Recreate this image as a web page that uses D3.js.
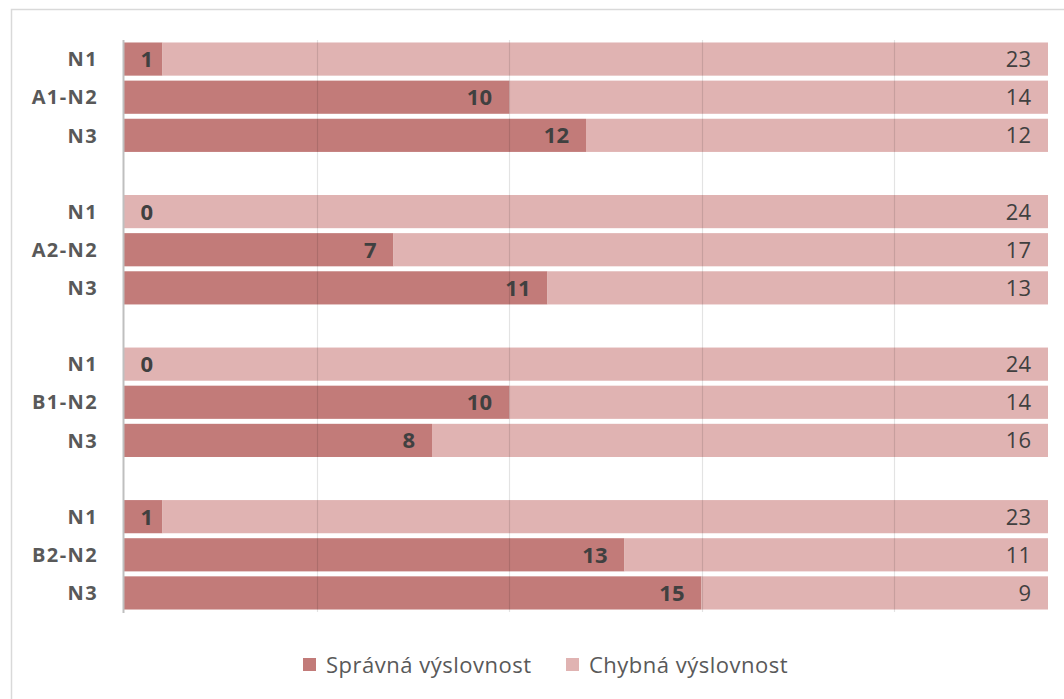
<!DOCTYPE html>
<html>
<head>
<meta charset="utf-8">
<script src="https://cdn.jsdelivr.net/npm/d3@7"></script>
<style>
  html, body { margin: 0; padding: 0; background: #fff; }
  svg { display: block; }
</style>
</head>
<body>
<svg id="chart" width="1064" height="699"></svg>
<script>
// Pronunciation results per group and level (24 speakers each)
const groups = ["A1", "A2", "B1", "B2"];
const levels = ["N1", "N2", "N3"];
const rowLabels = ["N1", "A1-N2", "N3", "N1", "A2-N2", "N3", "N1", "B1-N2", "N3", "N1", "B2-N2", "N3"];
const correct = [1, 10, 12, 0, 7, 11, 0, 10, 8, 1, 13, 15];
const wrong = [23, 14, 12, 24, 17, 13, 24, 14, 16, 23, 11, 9];
const seriesNames = ["Správná výslovnost", "Chybná výslovnost"];
const xTicks = [0, 5, 10, 15, 20];

const colors = ["#c27b79", "#e0b3b2"];
const font = "'Open Sans', 'Noto Sans', sans-serif";

const svg = d3.select("#chart");

// outer chart frame
svg.append("path")
  .attr("d", "M11.5,712 V9.5 H1080")
  .attr("fill", "none")
  .attr("stroke", "#d9d9d9")
  .attr("stroke-width", 1.5);

// rows: each group of three levels followed by an empty slot (except the last)
const rows = [];
const slots = [];
groups.forEach((g, gi) => {
  levels.forEach((lv, li) => {
    const i = gi * levels.length + li;
    const key = g + "-" + lv;
    rows.push({ key, label: rowLabels[i], correct: correct[i], wrong: wrong[i] });
    slots.push(key);
  });
  if (gi < groups.length - 1) slots.push("gap-" + g);
});

const plot = { left: 124, right: 1048, top: 40, bottom: 612 };

const x = d3.scaleLinear()
  .domain([0, d3.max(rows, d => d.correct + d.wrong)])
  .range([plot.left, plot.right]);

const y = d3.scaleBand()
  .domain(slots)
  .range([plot.top, plot.bottom])
  .paddingInner(0.13)
  .paddingOuter(0.065);

// stacked bars
const stack = d3.stack().keys(["correct", "wrong"])(rows);
stack.forEach((layer, si) => {
  svg.append("g").selectAll("rect")
    .data(layer)
    .join("rect")
    .attr("x", d => x(d[0]))
    .attr("width", d => x(d[1]) - x(d[0]))
    .attr("y", d => y(d.data.key))
    .attr("height", y.bandwidth())
    .attr("fill", colors[si]);
});

// vertical gridlines
svg.append("g").selectAll("line")
  .data(xTicks.filter(t => t > 0))
  .join("line")
  .attr("x1", d => Math.round(x(d)) + 0.5)
  .attr("x2", d => Math.round(x(d)) + 0.5)
  .attr("y1", plot.top)
  .attr("y2", plot.bottom)
  .attr("stroke", "#000")
  .attr("stroke-opacity", 0.11)
  .attr("stroke-width", 1.2);

// category axis line
svg.append("line")
  .attr("x1", plot.left - 0.5).attr("x2", plot.left - 0.5)
  .attr("y1", plot.top).attr("y2", plot.bottom + 1)
  .attr("stroke", "#bfbfbf")
  .attr("stroke-width", 2);

// category labels
svg.append("g").selectAll("text")
  .data(rows)
  .join("text")
  .attr("x", 98)
  .attr("y", d => y(d.key) + y.bandwidth() / 2)
  .attr("dy", "0.36em")
  .attr("text-anchor", "end")
  .attr("font-family", font)
  .attr("font-weight", 700)
  .attr("font-size", 20)
  .attr("letter-spacing", 1.4)
  .attr("fill", "#595959")
  .text(d => d.label);

// value labels for correct pronunciation (inside end of dark bar,
// kept clear of the axis for very short bars)
svg.append("g").selectAll("text")
  .data(rows)
  .join("text")
  .attr("x", d => Math.max(x(d.correct) - 17, x(0) + 29))
  .attr("y", d => y(d.key) + y.bandwidth() / 2)
  .attr("dy", "0.36em")
  .attr("text-anchor", "end")
  .attr("font-family", font)
  .attr("font-weight", 700)
  .attr("font-size", 22)
  .attr("fill", "#404040")
  .text(d => d.correct);

// value labels for wrong pronunciation (inside end of light bar)
svg.append("g").selectAll("text")
  .data(rows)
  .join("text")
  .attr("x", d => x(d.correct + d.wrong) - 17)
  .attr("y", d => y(d.key) + y.bandwidth() / 2)
  .attr("dy", "0.36em")
  .attr("text-anchor", "end")
  .attr("font-family", font)
  .attr("font-size", 22)
  .attr("fill", "#404040")
  .text(d => d.wrong);

// legend
const legendX = [303, 566];
const legend = svg.append("g").selectAll("g")
  .data(seriesNames)
  .join("g")
  .attr("transform", (d, i) => `translate(${legendX[i]},665)`);
legend.append("rect")
  .attr("x", 0).attr("y", -7)
  .attr("width", 13).attr("height", 13)
  .attr("fill", (d, i) => colors[i]);
legend.append("text")
  .attr("x", 23)
  .attr("dy", "0.36em")
  .attr("font-family", font)
  .attr("font-size", 22)
  .attr("letter-spacing", 0.5)
  .attr("fill", "#595959")
  .text(d => d);
</script>
</body>
</html>
